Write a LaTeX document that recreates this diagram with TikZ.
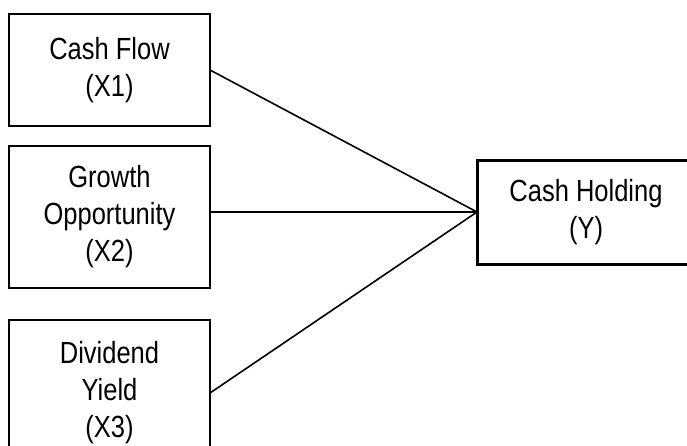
\documentclass[tikz,border=0pt]{standalone}
\usepackage{fontspec}
\setmainfont{Liberation Sans}
\newcommand{\vs}[1]{\scalebox{1}[1.2]{#1}}
\begin{document}
\begin{tikzpicture}[x=1pt,y=-1pt,
  varbox/.style={draw=black, line width=1.3pt, fill=white, inner sep=0pt, outer sep=0pt,
    align=center, font=\fontsize{25.5}{37}\selectfont},
  depbox/.style={varbox, line width=3pt},
  link/.style={draw=black, line width=1.6pt}]
\useasboundingbox (0,0) rectangle (687,445);
\clip (0,0) rectangle (687,445);
\node[varbox, minimum width=201pt, minimum height=112pt] (x1) at (109.5,70) {\vs{Cash Flow}\\\vs{(X1)}};
\node[varbox, minimum width=201pt, minimum height=142pt] (x2) at (109.5,217) {\vs{Growth}\\\vs{Opportunity}\\\vs{(X2)}};
\node[varbox, minimum width=201pt, minimum height=146pt] (x3) at (109.5,393) {\vs{Dividend}\\\vs{Yield}\\\vs{(X3)}};
\node[depbox, minimum width=218pt, minimum height=104pt] (y) at (586,212) {\vs{Cash Holding}\\\vs{(Y)}};
\coordinate (x2out) at (y.west -| x2.east);
\draw[link] (x1.east) -- (y.west);
\draw[link] (x2out) -- (y.west);
\draw[link] (x3.east) -- (y.west);
\end{tikzpicture}
\end{document}
